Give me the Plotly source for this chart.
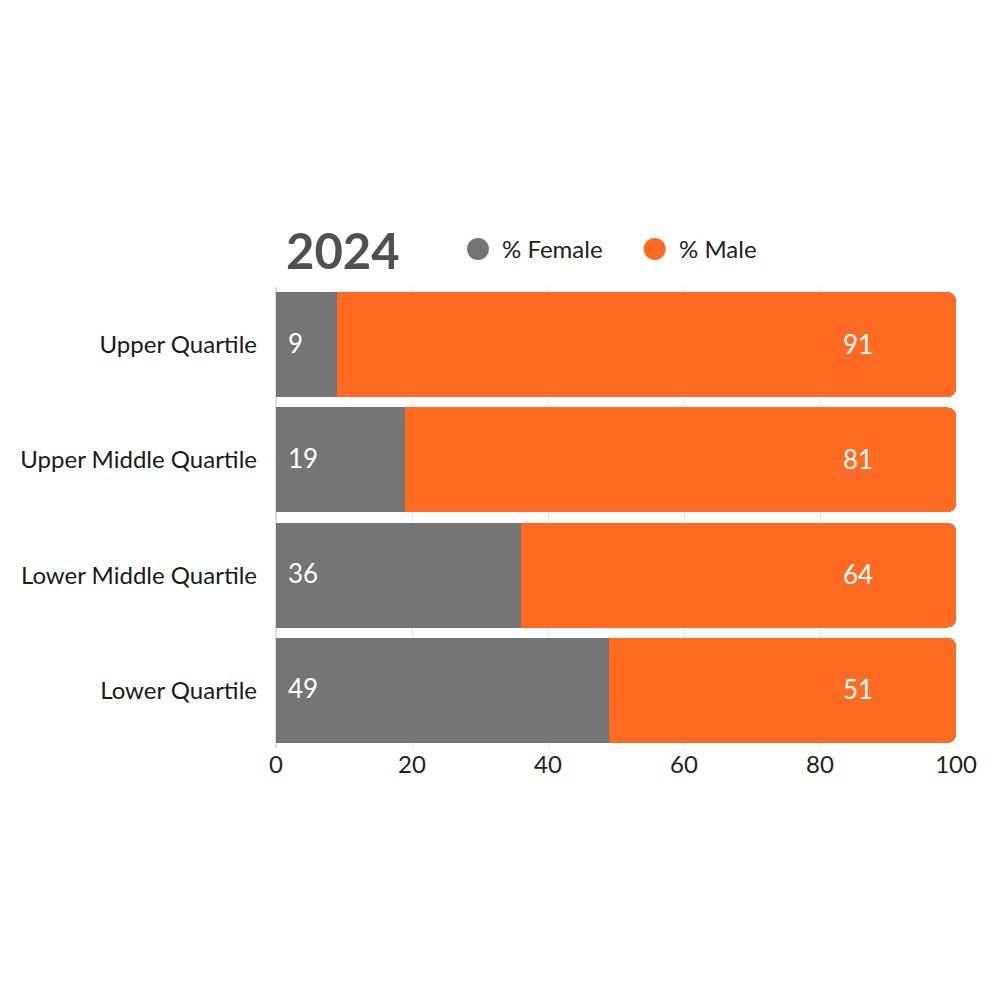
import plotly.graph_objects as go

# --- DATA ---
categories = ["Upper Quartile", "Upper Middle Quartile", "Lower Middle Quartile", "Lower Quartile"]
female = [9, 19, 36, 49]
male = [91, 81, 64, 51]
title_text = "2024"

GREY = "#757575"
ORANGE = "#FF6A22"
FONT = "Lato"

fig = go.Figure()

fig.add_trace(go.Bar(
    y=categories, x=female, orientation="h", name="% Female",
    marker=dict(color=GREY, line=dict(width=0)),
    showlegend=False, hoverinfo="skip",
))
fig.add_trace(go.Bar(
    y=categories, x=male, orientation="h", name="% Male",
    marker=dict(color=ORANGE, line=dict(width=0)),
    showlegend=False, hoverinfo="skip",
))

# value labels: female at the bar start, male at a fixed spot near the right end
for cat, v in zip(categories, female):
    fig.add_annotation(x=0, y=cat, text=str(v), showarrow=False, xanchor="left",
                       xshift=10, yshift=2, font=dict(color="white", size=26, family=FONT))
for cat, v in zip(categories, male):
    fig.add_annotation(x=85.6, y=cat, text=str(v), showarrow=False, yshift=1,
                       font=dict(color="white", size=26, family=FONT))

# title
fig.add_annotation(
    x=0, y=1, xref="paper", yref="paper", xanchor="left", yanchor="bottom",
    text="<b>" + title_text + "</b>", showarrow=False, xshift=8, yshift=6,
    font=dict(size=49, color="#505050", family=FONT),
)

# hand-made legend with large round markers
for name, col, px_ in [("% Female", GREY, 0.297), ("% Male", ORANGE, 0.557)]:
    fig.add_shape(type="circle", xref="paper", yref="paper",
                  xsizemode="pixel", ysizemode="pixel",
                  xanchor=px_, yanchor=1, x0=-11, x1=11, y0=27, y1=49,
                  fillcolor=col, line=dict(width=0))
    fig.add_annotation(x=px_, y=1, xref="paper", yref="paper",
                       xanchor="left", yanchor="middle", xshift=22, yshift=39,
                       text=name, showarrow=False,
                       font=dict(size=24, color="#222222", family=FONT))

fig.update_layout(
    width=1000, height=1000,
    barmode="stack", bargap=0.09, barcornerradius=8,
    plot_bgcolor="white", paper_bgcolor="white",
    margin=dict(l=268, r=52, t=279, b=260),
    font=dict(family=FONT, size=24, color="#222222"),
    showlegend=False,
    xaxis=dict(range=[0, 100], tickvals=[0, 20, 40, 60, 80, 100],
               showgrid=True, gridcolor="#e6e6e6", zeroline=True,
               zerolinecolor="#dddddd", ticks="", tickfont=dict(size=24)),
    yaxis=dict(autorange="reversed", ticks="", ticklabelstandoff=18,
               tickfont=dict(size=24, color="#1a1a1a"), showgrid=False),
)

fig.write_html("out.html")
